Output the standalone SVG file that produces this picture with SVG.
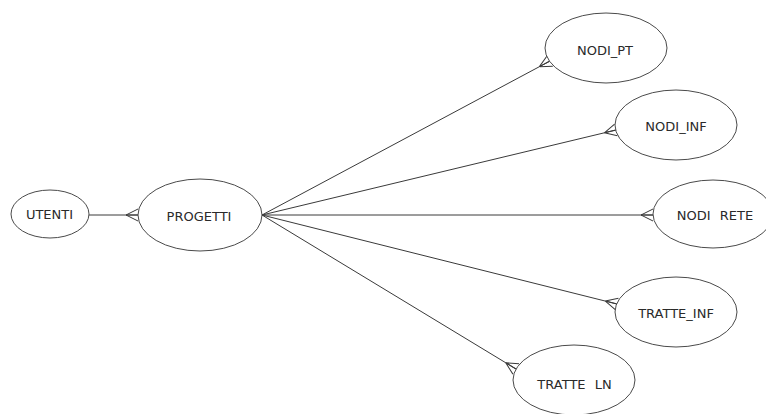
<svg xmlns="http://www.w3.org/2000/svg" width="766" height="414" viewBox="0 0 766 414">
  <style>
    .entity { fill: #ffffff; stroke: #4a4a4a; stroke-width: 1; }
    .label { font-family: "DejaVu Sans", Verdana, sans-serif; font-size: 13px; fill: #2a2a2a; text-anchor: middle; }
    .rel { stroke: #3a3a3a; stroke-width: 1; fill: none; marker-end: url(#many); }
  </style>
  <defs>
    <!-- crow's foot: "many" end of a relationship -->
    <marker id="many" markerUnits="userSpaceOnUse" viewBox="0 0 13 14" markerWidth="13" markerHeight="14" refX="12" refY="7" orient="auto">
      <path d="M0,7 L12,1 M0,7 L12,7 M0,7 L12,13" stroke="#3a3a3a" stroke-width="1" fill="none"/>
    </marker>
  </defs>
  <rect width="766" height="414" fill="#ffffff"/>

  <g id="connectors">
    <line class="rel" x1="89" y1="215" x2="138" y2="215"/>
    <line class="rel" x1="262" y1="215" x2="550" y2="61"/>
    <line class="rel" x1="262" y1="215" x2="616" y2="130"/>
    <line class="rel" x1="262" y1="215" x2="653" y2="215"/>
    <line class="rel" x1="262" y1="215" x2="617" y2="304"/>
    <line class="rel" x1="262" y1="215" x2="516" y2="369"/>
  </g>

  <g id="utenti">
    <ellipse class="entity" cx="50" cy="214" rx="39" ry="24"/>
    <text class="label" x="49.5" y="219">UTENTI</text>
  </g>
  <g id="progetti">
    <ellipse class="entity" cx="200" cy="215" rx="62" ry="36"/>
    <text class="label" x="199" y="221">PROGETTI</text>
  </g>
  <g id="nodi_pt">
    <ellipse class="entity" cx="606" cy="48" rx="61" ry="35"/>
    <text class="label" x="605" y="55">NODI_PT</text>
  </g>
  <g id="nodi_inf">
    <ellipse class="entity" cx="676" cy="125" rx="61" ry="35"/>
    <text class="label" x="676" y="131">NODI_INF</text>
  </g>
  <g id="nodi_rete">
    <ellipse class="entity" cx="713" cy="214" rx="60" ry="34"/>
    <text class="label" x="715" y="220" word-spacing="5">NODI RETE</text>
  </g>
  <g id="tratte_inf">
    <ellipse class="entity" cx="676" cy="312" rx="61" ry="35"/>
    <text class="label" x="676" y="318">TRATTE_INF</text>
  </g>
  <g id="tratte_ln">
    <ellipse class="entity" cx="574" cy="380" rx="61" ry="35"/>
    <text class="label" x="574.5" y="389" word-spacing="5">TRATTE LN</text>
  </g>
</svg>
